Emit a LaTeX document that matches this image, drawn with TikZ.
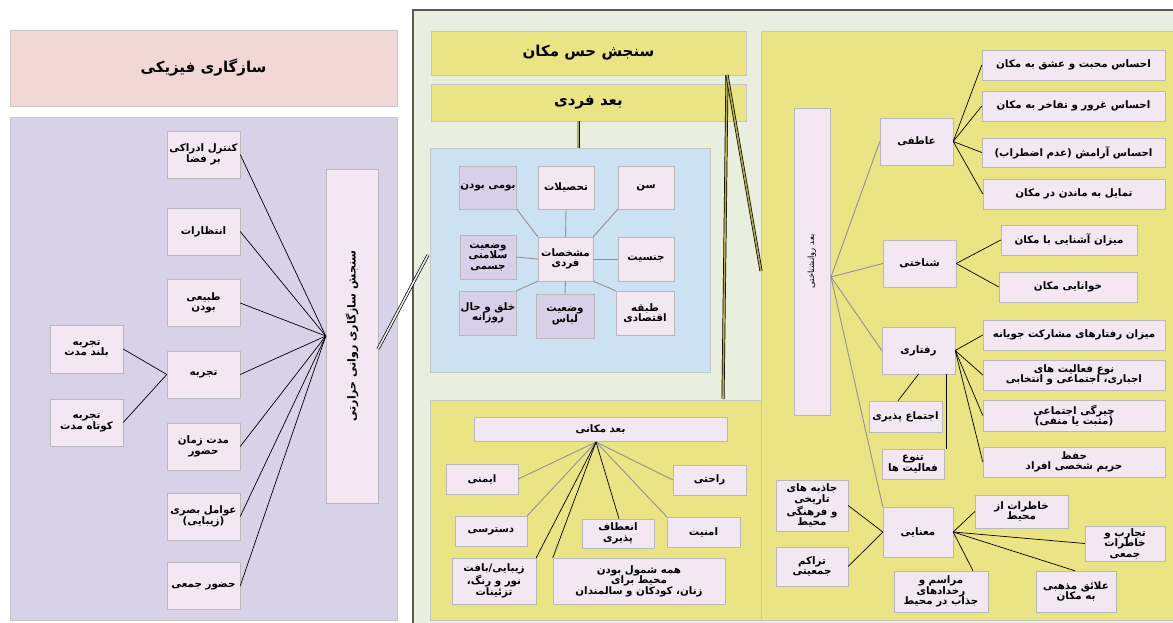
\documentclass[tikz,border=0pt]{standalone}
\usepackage{fontspec}
\newfontfamily\farsi[Script=Arabic]{DejaVu Sans}
\TeXXeTstate=1
\newcommand{\fa}[1]{\beginR#1\endR}
\definecolor{rosebg}{HTML}{F2D8D4}
\definecolor{lavbg}{HTML}{D8D2E9}
\definecolor{cellbg}{HTML}{F2E7F3}
\definecolor{yelbg}{HTML}{EAE485}
\definecolor{greenbg}{HTML}{E8EFDF}
\definecolor{bluebg}{HTML}{CCE1F1}
\definecolor{lavcell}{HTML}{D8D0E8}
\definecolor{pipeol}{HTML}{B3AC4A}

\begin{document}
\begin{tikzpicture}[x=1pt,y=-1pt,
    sz/.style 2 args={minimum width=#1,minimum height=#2},
    cell/.style={draw=gray!55,fill=cellbg,inner sep=1pt,align=center,
                 font=\farsi\bfseries\fontsize{10.3}{10.5}\selectfont},
    cellv/.style={cell,fill=lavcell},
    panel/.style={draw=gray!45,inner sep=0pt},
    head/.style={panel,font=\farsi\bfseries\fontsize{15}{16}\selectfont},
    link/.style={black,line width=0.7pt},
    glink/.style={gray!85,line width=0.9pt},
    pipe/.style={line width=0.7pt,double=pipeol,double distance=1.6pt}]
  \useasboundingbox (0,0) rectangle (1173,623);
  \fill[white] (0,0) rectangle (1173,623);

  % left part
  \node[head,fill=rosebg,sz={387}{76}] (fizik) at (203.5,68) {\fa{سازگاری فیزیکی}};
  \node[panel,fill=lavbg,sz={387}{503}] (lavp) at (203.5,368.5) {};
  \node[cell,sz={52}{334}] (sanjesh) at (352,336) {};
  \node[rotate=90,font=\farsi\bfseries\fontsize{11}{12}\selectfont] (sanjeshlbl)
       at (sanjesh.center) {\fa{سنجش سازگاری روانی حرارتی}};
  \node[cell,sz={73}{47}] (kontrol) at (203.5,154.5) {\fa{کنترل ادراکی}\\\fa{بر فضا}};
  \node[cell,sz={73}{47}] (entezar) at (203.5,231.5) {\fa{انتظارات}};
  \node[cell,sz={73}{47}] (tabiei)  at (203.5,303)   {\fa{طبیعی}\\\fa{بودن}};
  \node[cell,sz={73}{47}] (tajrobe) at (203.5,374.5) {\fa{تجربه}};
  \node[cell,sz={73}{47}] (modat)   at (203.5,446.5) {\fa{مدت زمان}\\\fa{حضور}};
  \node[cell,sz={73}{47}] (avamel)  at (203.5,516.5) {\fa{عوامل بصری}\\\fa{(زیبایی)}};
  \node[cell,sz={73}{47}] (hozur)   at (203.5,586)   {\fa{حضور جمعی}};
  \node[cell,sz={73}{48}] (boland)  at (86.5,349)    {\fa{تجربه}\\\fa{بلند مدت}};
  \node[cell,sz={73}{47}] (kootah)  at (86.5,422.5)  {\fa{تجربه}\\\fa{کوتاه مدت}};
  \draw[link] (kontrol.east) -- (sanjesh.west);
  \draw[link] (entezar.east) -- (sanjesh.west);
  \draw[link] (tabiei.east) -- (sanjesh.west);
  \draw[link] (tajrobe.east) -- (sanjesh.west);
  \draw[link] (modat.east) -- (sanjesh.west);
  \draw[link] (avamel.east) -- (sanjesh.west);
  \draw[link] (hozur.east) -- (sanjesh.west);
  \draw[link] (tajrobe.west) -- (boland.east);
  \draw[link] (tajrobe.west) -- (kootah.east);

  % place sense panel
  \node[draw=gray!70!black,line width=1.5pt,fill=greenbg,sz={767}{620},inner sep=0pt]
       (greenp) at (796.5,320) {};
  \node[head,fill=yelbg,sz={315}{44}] (hesmakan) at (588.5,53) {\fa{سنجش حس مکان}};
  \node[head,fill=yelbg,sz={315}{37}] (fardi) at (588.5,102.5) {\fa{بعد فردی}};

  % individual
  \node[panel,fill=bluebg,sz={280}{224}] (bluep) at (570,260) {};
  \node[cell,sz={55}{44}] (moshakh) at (565.5,259) {\fa{مشخصات}\\\fa{فردی}};
  \node[cellv,sz={56}{43}] (bomi)   at (488,187.5) {\fa{بومی بودن}};
  \node[cell,sz={56}{43}]  (tahsil) at (566,187.5) {\fa{تحصیلات}};
  \node[cell,sz={56}{43}]  (sen)    at (646,187.5) {\fa{سن}};
  \node[cellv,sz={56}{44}] (salamat) at (488,257) {\fa{وضعیت}\\\fa{سلامتی}\\\fa{جسمی}};
  \node[cell,sz={56}{44}]  (jensiat) at (646,259) {\fa{جنسیت}};
  \node[cellv,sz={56}{44}] (kholgh)  at (488,313) {\fa{خلق و حال}\\\fa{روزانه}};
  \node[cellv,sz={58}{44}] (lebas)   at (565,316) {\fa{وضعیت}\\\fa{لباس}};
  \node[cell,sz={58}{44}]  (tabaghe) at (645,313) {\fa{طبقه}\\\fa{اقتصادی}};
  \draw[glink] (bomi.south east) -- (moshakh.north west);
  \draw[glink] (tahsil.south) -- (moshakh.north);
  \draw[glink] (sen.south west) -- (moshakh.north east);
  \draw[glink] (salamat.east) -- (moshakh.west);
  \draw[glink] (jensiat.west) -- (moshakh.east);
  \draw[glink] (kholgh.north east) -- (moshakh.south west);
  \draw[glink] (lebas.north) -- (moshakh.south);
  \draw[glink] (tabaghe.north west) -- (moshakh.south east);

  % spatial
  \node[panel,fill=yelbg,sz={331}{220}] (makanip) at (595.5,510) {};
  \node[cell,sz={253}{24}] (makani) at (600.5,429) {\fa{بعد مکانی}};
  \coordinate (mhub) at (596,442);
  \node[cell,sz={72}{30}] (imeni)    at (482,479)   {\fa{ایمنی}};
  \node[cell,sz={73}{30}] (rahati)   at (709.5,480) {\fa{راحتی}};
  \node[cell,sz={72}{30}] (dastrasi) at (491,531)   {\fa{دسترسی}};
  \node[cell,sz={72}{29}] (enetaf)   at (618,533.5) {\fa{انعطاف}\\\fa{پذیری}};
  \node[cell,sz={73}{30}] (amniat)   at (703.5,532) {\fa{امنیت}};
  \node[cell,sz={84}{46}] (zibaei)   at (494,581)
       {\fa{زیبایی/بافت}\\\fa{نور و رنگ،}\\\fa{تزئینات}};
  \node[cell,sz={172}{46}] (hame)    at (639,581)
       {\fa{همه شمول بودن}\\\fa{محیط برای}\\\fa{زنان، کودکان و سالمندان}};
  \draw[glink] (mhub) -- (imeni.east);
  \draw[glink] (mhub) -- (dastrasi.north east);
  \draw[glink] (mhub) -- (amniat.north west);
  \draw[glink] (mhub) -- (rahati.west);
  \draw[link] (mhub) -- (zibaei.north east);
  \draw[link] (mhub) -- (hame.north west);
  \draw[link] (mhub) -- ([xshift=1pt]enetaf.north);

  % psychological
  \node[panel,fill=yelbg,sz={419}{589}] (ravanp) at (970.5,325.5) {};
  \node[cell,sz={36}{307}] (ravan) at (812,261.5) {};
  \node[rotate=90,font=\farsi\fontsize{8.5}{9}\selectfont] (ravanlbl) at (ravan.center)
       {\fa{بعد روانشناختی}};
  \coordinate (rhub) at (831,277);
  \node[cell,sz={73}{47}]  (atefi) at (916.5,141.5) {\fa{عاطفی}};
  \node[cell,sz={183}{30}] (a1) at (1073.5,65)    {\fa{احساس محبت و عشق به مکان}};
  \node[cell,sz={183}{30}] (a2) at (1073.5,106)   {\fa{احساس غرور و تفاخر به مکان}};
  \node[cell,sz={183}{29}] (a3) at (1073.5,152.5) {\fa{احساس آرامش (عدم اضطراب)}};
  \node[cell,sz={182}{30}] (a4) at (1074,194)     {\fa{تمایل به ماندن در مکان}};
  \node[cell,sz={73}{47}]  (shenakhti) at (919.5,263.5) {\fa{شناختی}};
  \node[cell,sz={136}{30}] (s1) at (1069,240) {\fa{میزان آشنایی با مکان}};
  \node[cell,sz={138}{30}] (s2) at (1068,287) {\fa{خوانایی مکان}};
  \node[cell,sz={73}{47}]  (raftari) at (918.5,350.5) {\fa{رفتاری}};
  \node[cell,sz={182}{30}] (r1) at (1074,335) {\fa{میزان رفتارهای مشارکت جویانه}};
  \node[cell,sz={182}{30}] (r2) at (1074,375)
       {\fa{نوع فعالیت های}\\\fa{اجباری، اجتماعی و انتخابی}};
  \node[cell,sz={182}{31}] (r3) at (1074,415.5)
       {\fa{چیرگی اجتماعی}\\\fa{(مثبت یا منفی)}};
  \node[cell,sz={182}{30}] (r4) at (1074,462) {\fa{حفظ}\\\fa{حریم شخصی افراد}};
  \node[cell,sz={73}{31}]  (ejtema) at (905.5,416.5) {\fa{اجتماع پذیری}};
  \node[cell,sz={62}{30}]  (tanavo) at (913,464) {\fa{تنوع}\\\fa{فعالیت ها}};
  \node[cell,sz={70}{50}]  (manaei) at (918,532) {\fa{معنایی}};
  \node[cell,sz={93}{33}]  (m1) at (1021.5,511.5) {\fa{خاطرات از}\\\fa{محیط}};
  \node[cell,sz={80}{35}]  (m2) at (1125,543.5) {\fa{تجارب و}\\\fa{خاطرات}\\\fa{جمعی}};
  \node[cell,sz={80}{41}]  (m3) at (1076,591.5) {\fa{علائق مذهبی}\\\fa{به مکان}};
  \node[cell,sz={94}{41}]  (m4) at (941,591.5)
       {\fa{مراسم و}\\\fa{رخدادهای}\\\fa{جذاب در محیط}};
  \node[cell,sz={72}{51}]  (m5) at (812,505.5)
       {\fa{جاذبه های}\\\fa{تاریخی}\\\fa{و فرهنگی}\\\fa{محیط}};
  \node[cell,sz={72}{39}]  (m6) at (812,566.5) {\fa{تراکم}\\\fa{جمعیتی}};
  \draw[glink] (rhub) -- (atefi.west);
  \draw[glink] (rhub) -- (shenakhti.west);
  \draw[glink] (rhub) -- (raftari.west);
  \draw[glink] (rhub) -- (manaei.north west);
  \draw[link] (atefi.east) -- (a1.west);
  \draw[link] (atefi.east) -- (a2.west);
  \draw[link] (atefi.east) -- (a3.west);
  \draw[link] (atefi.east) -- (a4.west);
  \draw[link] (shenakhti.east) -- (s1.west);
  \draw[link] (shenakhti.east) -- (s2.west);
  \draw[link] (raftari.east) -- (r1.west);
  \draw[link] (raftari.east) -- (r2.west);
  \draw[link] (raftari.east) -- (r3.west);
  \draw[link] (raftari.east) -- (r4.west);
  \draw[link] (raftari.south) -- ([xshift=-7.5pt]ejtema.north);
  \draw[link] ([xshift=2pt]tanavo.north east |- raftari.south) -- ([xshift=2pt]tanavo.north east);
  \draw[link] (manaei.east) -- (m1.west);
  \draw[link] (manaei.east) -- (m2.west);
  \draw[link] (manaei.east) -- ([xshift=-1pt]m3.north);
  \draw[link] (manaei.east) -- ([xshift=32pt]m4.north);
  \draw[link] (manaei.west) -- (m5.east);
  \draw[link] (manaei.west) -- (m6.east);

  % pipes between parts
  \coordinate (sj) at (378,349);
  \coordinate (bl) at (428,255);
  \coordinate (hm) at (727,75);
  \coordinate (mk) at (723,399);
  \coordinate (rv) at (761,271);
  \draw[pipe,double=gray!15] (sj) -- (bl);
  \draw[pipe] ([xshift=-10.5pt]fardi.south) -- ([xshift=-10.5pt]fardi.south |- bluep.north);
  \draw[pipe] (hm) -- (mk);
  \draw[pipe] (hm) -- (rv);
\end{tikzpicture}
\end{document}
